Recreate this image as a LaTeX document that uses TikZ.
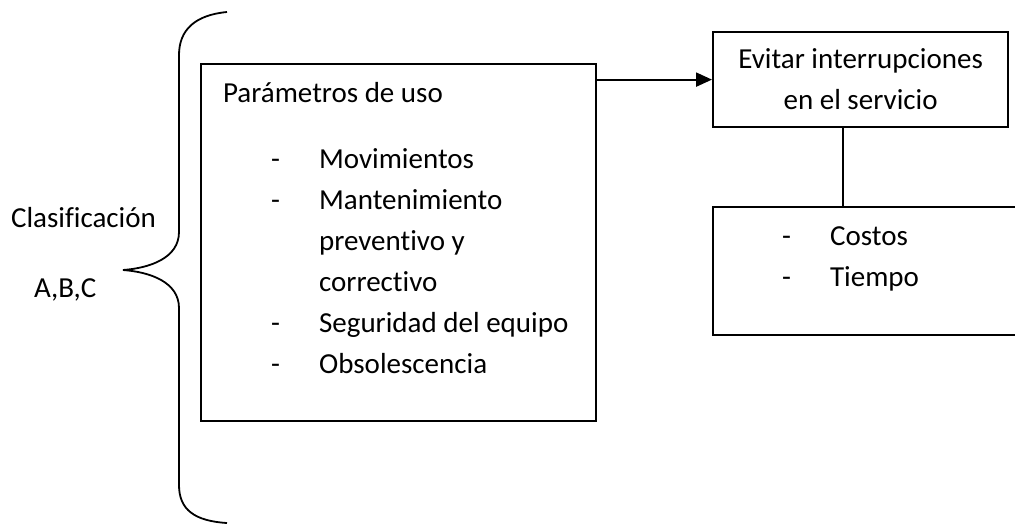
\documentclass[tikz,border=0pt]{standalone}
\usepackage{fontspec}
\setmainfont{Carlito}[Ligatures={NoCommon,NoRare}]
\usetikzlibrary{arrows.meta,positioning}

\begin{document}
\begin{tikzpicture}[x=0.5pt,y=-0.5pt,>={Triangle[length=8pt,width=7pt]},
                    line width=1.1pt,font=\fontsize{14.5}{20.5}\selectfont]
  \tikzstyle{caja}=[rectangle,draw=black,fill=white,inner sep=0pt]
  \tikzstyle{texto}=[anchor=base west,inner sep=0pt]

  \useasboundingbox (0,0) rectangle (1015,527);
  \clip (0,0) rectangle (1015,527);

  \node[caja,anchor=north west,minimum width=197.5pt,minimum height=178.5pt] (param) at (200,63) {};
  \node[caja,anchor=north west,minimum width=147.5pt,minimum height=47.5pt,align=center] (evitar) at (712,31)
        {Evitar interrupciones\\en el servicio};
  \node[anchor=north west,inner sep=0pt,minimum width=220pt,minimum height=63pt] (costos) at (713,207) {};
  \draw (costos.north east) -- (costos.north west) -- (costos.south west) -- (costos.south east);

  \node[texto] (titulo) at (222,102) {Parámetros de uso};
  \node[texto] (lista)  at (270,168) {\begin{tabular}[t]{@{}p{24pt}@{}l@{}}
      - & Movimientos\\
      - & Mantenimiento\\
        & preventivo y\\
        & correctivo\\
      - & Seguridad del equipo\\
      - & Obsolescencia
    \end{tabular}};
  \node[texto] (factores) at (781,245) {\begin{tabular}[t]{@{}p{24pt}@{}l@{}}
      - & Costos\\
      - & Tiempo
    \end{tabular}};

  \node[texto] (clasif) at (10,227) {Clasificación};
  \node[texto] (abc)    at (33,297) {A,B,C};

  % llave
  \draw[line width=0.9pt] (227,12) .. controls (195,15) and (179,30) .. (179,55)
    -- (179,232) .. controls (179,258) and (150,268) .. (123,270)
    .. controls (150,272) and (179,282) .. (179,308)
    -- (179,485) .. controls (179,510) and (195,521) .. (227,523);

  \coordinate (eje) at (843,0);
  \draw[->] (param.east |- evitar.west) -- (evitar.west);
  \draw (evitar.south -| eje) -- (costos.north -| eje);
\end{tikzpicture}
\end{document}
